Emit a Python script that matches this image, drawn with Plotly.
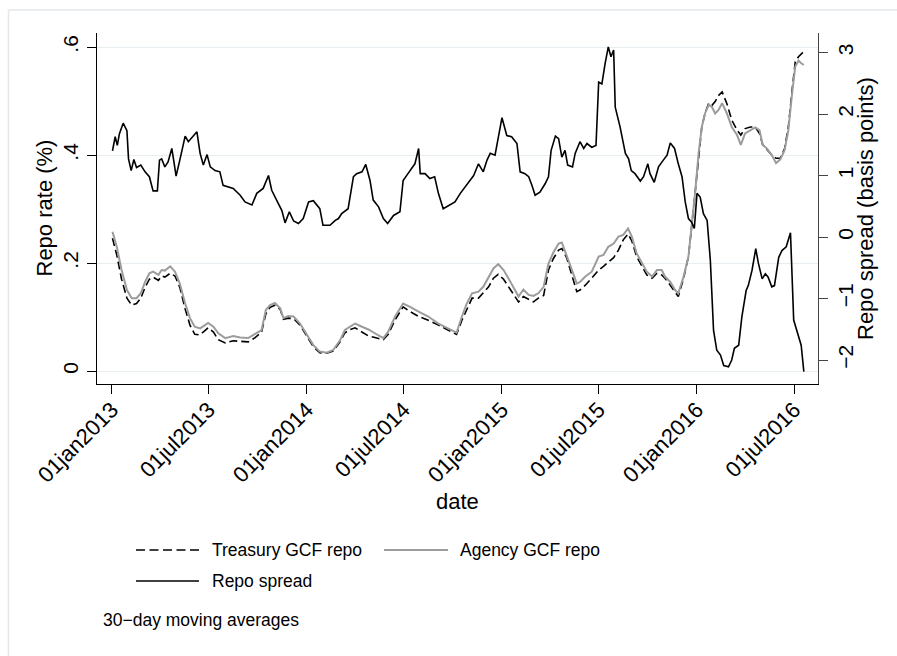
import plotly.graph_objects as go

# ---------------- data (30-day moving averages) ----------------
spread_dates = [
    "2013-01-02", "2013-01-07", "2013-01-11", "2013-01-15", "2013-01-22", "2013-01-29", "2013-02-01", "2013-02-06",
    "2013-02-11", "2013-02-16", "2013-02-24", "2013-03-04", "2013-03-12", "2013-03-19", "2013-03-27", "2013-03-31",
    "2013-04-04", "2013-04-10", "2013-04-16", "2013-04-23", "2013-04-27", "2013-05-01", "2013-05-08", "2013-05-18",
    "2013-05-24", "2013-06-02", "2013-06-09", "2013-06-15", "2013-06-21", "2013-06-28", "2013-07-04", "2013-07-13",
    "2013-07-22", "2013-07-28", "2013-08-07", "2013-08-16", "2013-08-29", "2013-09-07", "2013-09-20", "2013-09-29",
    "2013-10-11", "2013-10-21", "2013-10-27", "2013-11-05", "2013-11-15", "2013-11-21", "2013-11-29", "2013-12-07",
    "2013-12-16", "2013-12-25", "2014-01-04", "2014-01-13", "2014-01-25", "2014-01-31", "2014-02-13", "2014-02-23",
    "2014-03-01", "2014-03-07", "2014-03-19", "2014-03-29", "2014-04-04", "2014-04-14", "2014-04-21", "2014-04-29",
    "2014-05-05", "2014-05-15", "2014-05-24", "2014-06-01", "2014-06-12", "2014-06-24", "2014-06-30", "2014-07-09",
    "2014-07-17", "2014-07-22", "2014-07-29", "2014-08-01", "2014-08-10", "2014-08-19", "2014-08-28", "2014-09-04",
    "2014-09-13", "2014-09-26", "2014-10-05", "2014-10-15", "2014-10-27", "2014-11-09", "2014-11-18", "2014-11-27",
    "2014-12-04", "2014-12-10", "2014-12-19", "2014-12-25", "2015-01-01", "2015-01-10", "2015-01-19", "2015-01-29",
    "2015-02-04", "2015-02-13", "2015-02-20", "2015-02-26", "2015-03-04", "2015-03-13", "2015-03-23", "2015-03-29",
    "2015-04-03", "2015-04-11", "2015-04-17", "2015-04-23", "2015-04-29", "2015-05-04", "2015-05-13", "2015-05-18",
    "2015-05-27", "2015-06-03", "2015-06-09", "2015-06-18", "2015-06-26", "2015-07-01", "2015-07-07", "2015-07-13",
    "2015-07-19", "2015-07-24", "2015-07-29", "2015-08-01", "2015-08-10", "2015-08-20", "2015-08-26", "2015-08-31",
    "2015-09-07", "2015-09-17", "2015-09-23", "2015-10-01", "2015-10-05", "2015-10-13", "2015-10-21", "2015-10-30",
    "2015-11-06", "2015-11-12", "2015-11-20", "2015-11-27", "2015-12-04", "2015-12-10", "2015-12-16", "2015-12-22",
    "2015-12-27", "2016-01-01", "2016-01-07", "2016-01-13", "2016-01-20", "2016-01-26", "2016-02-01", "2016-02-07",
    "2016-02-14", "2016-02-20", "2016-02-29", "2016-03-06", "2016-03-11", "2016-03-19", "2016-03-25", "2016-04-02",
    "2016-04-06", "2016-04-13", "2016-04-20", "2016-04-25", "2016-05-02", "2016-05-08", "2016-05-13", "2016-05-20",
    "2016-05-25", "2016-06-02", "2016-06-08", "2016-06-16", "2016-06-24", "2016-06-30", "2016-07-08", "2016-07-14",
    "2016-07-19",
]
spread_bp = [
    1.40, 1.63, 1.49, 1.68, 1.85, 1.73, 1.27, 1.08,
    1.26, 1.13, 1.17, 1.06, 0.98, 0.75, 0.75, 1.25,
    1.27, 1.14, 1.22, 1.44, 1.22, 0.99, 1.25, 1.64,
    1.55, 1.64, 1.71, 1.36, 1.17, 1.34, 1.14, 1.08,
    1.06, 0.84, 0.81, 0.79, 0.68, 0.57, 0.52, 0.71,
    0.79, 1.00, 0.76, 0.60, 0.43, 0.23, 0.41, 0.26,
    0.22, 0.30, 0.57, 0.59, 0.46, 0.19, 0.19, 0.27,
    0.30, 0.38, 0.46, 0.98, 1.03, 1.06, 1.18, 0.92,
    0.60, 0.49, 0.30, 0.22, 0.35, 0.41, 0.92, 1.03,
    1.14, 1.19, 1.44, 1.03, 1.03, 0.95, 0.98, 0.71,
    0.46, 0.52, 0.57, 0.71, 0.84, 1.00, 1.19, 1.06,
    1.25, 1.36, 1.33, 1.63, 1.94, 1.65, 1.63, 1.52,
    1.06, 1.03, 0.98, 0.84, 0.68, 0.73, 0.87, 0.98,
    1.41, 1.64, 1.60, 1.30, 1.41, 1.17, 1.14, 1.36,
    1.55, 1.44, 1.52, 1.46, 1.49, 2.52, 2.49, 2.82,
    3.09, 2.93, 3.04, 2.11, 1.79, 1.36, 1.27, 1.08,
    1.03, 0.91, 0.98, 1.19, 1.03, 0.89, 1.14, 1.25,
    1.33, 1.53, 1.44, 1.19, 0.98, 0.57, 0.30, 0.24,
    0.14, 0.71, 0.65, 0.38, 0.27, -0.38, -1.52, -1.84,
    -1.92, -2.09, -2.11, -2.00, -1.81, -1.76, -1.30, -0.87,
    -0.79, -0.54, -0.19, -0.43, -0.68, -0.60, -0.65, -0.81,
    -0.79, -0.33, -0.22, -0.16, 0.07, -1.35, -1.57, -1.76,
    -2.19,
]

rate_dates = [
    "2013-01-02", "2013-01-10", "2013-01-19", "2013-01-29", "2013-02-07", "2013-02-16", "2013-02-24", "2013-03-04",
    "2013-03-12", "2013-03-19", "2013-03-29", "2013-04-04", "2013-04-10", "2013-04-20", "2013-04-29", "2013-05-08",
    "2013-05-18", "2013-05-27", "2013-06-05", "2013-06-15", "2013-06-24", "2013-06-30", "2013-07-10", "2013-07-19",
    "2013-08-01", "2013-08-16", "2013-08-29", "2013-09-13", "2013-09-26", "2013-10-08", "2013-10-16", "2013-10-24",
    "2013-11-02", "2013-11-12", "2013-11-18", "2013-11-27", "2013-12-07", "2013-12-19", "2014-01-01", "2014-01-13",
    "2014-01-25", "2014-02-07", "2014-02-19", "2014-03-04", "2014-03-13", "2014-03-23", "2014-04-01", "2014-04-14",
    "2014-04-26", "2014-05-08", "2014-05-24", "2014-06-02", "2014-06-15", "2014-06-30", "2014-07-13", "2014-07-29",
    "2014-08-16", "2014-09-04", "2014-09-23", "2014-10-08", "2014-10-18", "2014-10-27", "2014-11-06", "2014-11-18",
    "2014-11-27", "2014-12-07", "2014-12-16", "2014-12-25", "2015-01-04", "2015-01-13", "2015-01-22", "2015-02-01",
    "2015-02-10", "2015-02-20", "2015-03-01", "2015-03-10", "2015-03-20", "2015-03-29", "2015-04-07", "2015-04-17",
    "2015-04-23", "2015-05-02", "2015-05-12", "2015-05-21", "2015-05-27", "2015-06-06", "2015-06-18", "2015-07-01",
    "2015-07-10", "2015-07-19", "2015-07-29", "2015-08-07", "2015-08-16", "2015-08-25", "2015-09-01", "2015-09-10",
    "2015-09-20", "2015-09-29", "2015-10-09", "2015-10-18", "2015-10-27", "2015-11-02", "2015-11-12", "2015-11-21",
    "2015-11-27", "2015-12-07", "2015-12-16", "2015-12-22", "2015-12-29", "2016-01-04", "2016-01-10", "2016-01-16",
    "2016-01-23", "2016-01-29", "2016-02-04", "2016-02-10", "2016-02-17", "2016-02-26", "2016-03-06", "2016-03-16",
    "2016-03-23", "2016-03-31", "2016-04-10", "2016-04-19", "2016-04-27", "2016-05-03", "2016-05-11", "2016-05-20",
    "2016-05-28", "2016-06-05", "2016-06-13", "2016-06-20", "2016-06-27", "2016-07-03", "2016-07-09", "2016-07-14",
    "2016-07-19",
]
agency_gcf = [
    0.258, 0.230, 0.187, 0.150, 0.135, 0.135, 0.144, 0.165,
    0.181, 0.184, 0.178, 0.187, 0.186, 0.194, 0.184, 0.162,
    0.125, 0.098, 0.082, 0.079, 0.085, 0.089, 0.082, 0.070,
    0.061, 0.065, 0.062, 0.061, 0.069, 0.076, 0.113, 0.122,
    0.126, 0.116, 0.098, 0.102, 0.101, 0.088, 0.067, 0.048,
    0.036, 0.034, 0.039, 0.057, 0.076, 0.082, 0.088, 0.082,
    0.077, 0.070, 0.061, 0.073, 0.101, 0.125, 0.119, 0.110,
    0.101, 0.088, 0.079, 0.071, 0.101, 0.125, 0.144, 0.147,
    0.156, 0.175, 0.190, 0.198, 0.187, 0.172, 0.156, 0.138,
    0.151, 0.141, 0.139, 0.144, 0.156, 0.199, 0.219, 0.236,
    0.238, 0.215, 0.187, 0.162, 0.165, 0.175, 0.184, 0.212,
    0.215, 0.230, 0.236, 0.249, 0.252, 0.264, 0.249, 0.218,
    0.199, 0.184, 0.175, 0.187, 0.187, 0.175, 0.165, 0.150,
    0.144, 0.175, 0.212, 0.267, 0.335, 0.403, 0.452, 0.477,
    0.493, 0.489, 0.477, 0.483, 0.496, 0.477, 0.452, 0.437,
    0.419, 0.440, 0.446, 0.451, 0.446, 0.419, 0.412, 0.400,
    0.385, 0.392, 0.409, 0.446, 0.514, 0.564, 0.575, 0.570,
    0.567,
]
treasury_gcf = [
    0.246, 0.215, 0.170, 0.135, 0.122, 0.125, 0.135, 0.155,
    0.170, 0.174, 0.168, 0.176, 0.174, 0.181, 0.176, 0.155,
    0.115, 0.085, 0.068, 0.067, 0.075, 0.080, 0.072, 0.058,
    0.052, 0.056, 0.055, 0.054, 0.062, 0.072, 0.106, 0.118,
    0.122, 0.114, 0.096, 0.098, 0.097, 0.085, 0.064, 0.045,
    0.034, 0.033, 0.037, 0.054, 0.071, 0.077, 0.080, 0.072,
    0.065, 0.062, 0.058, 0.068, 0.095, 0.119, 0.110, 0.101,
    0.094, 0.085, 0.076, 0.068, 0.094, 0.113, 0.135, 0.135,
    0.145, 0.156, 0.172, 0.179, 0.170, 0.156, 0.142, 0.128,
    0.138, 0.132, 0.128, 0.135, 0.140, 0.187, 0.208, 0.224,
    0.227, 0.210, 0.175, 0.147, 0.150, 0.159, 0.172, 0.187,
    0.194, 0.201, 0.210, 0.224, 0.243, 0.254, 0.241, 0.212,
    0.193, 0.178, 0.172, 0.181, 0.178, 0.172, 0.159, 0.147,
    0.138, 0.172, 0.212, 0.267, 0.335, 0.403, 0.452, 0.477,
    0.496, 0.492, 0.499, 0.510, 0.517, 0.495, 0.465, 0.446,
    0.437, 0.449, 0.452, 0.452, 0.440, 0.419, 0.410, 0.400,
    0.394, 0.394, 0.412, 0.452, 0.520, 0.573, 0.582, 0.588,
    0.592,
]

x_tick_dates = ["2013-01-01", "2013-07-01", "2014-01-01", "2014-07-01",
                "2015-01-01", "2015-07-01", "2016-01-01", "2016-07-01"]
x_tick_text = ["01jan2013", "01jul2013", "01jan2014", "01jul2014",
               "01jan2015", "01jul2015", "01jan2016", "01jul2016"]
rate_ticks = [0, 0.2, 0.4, 0.6]
rate_tick_text = ["0", ".2", ".4", ".6"]
spread_ticks = [-2, -1, 0, 1, 2, 3]
spread_tick_text = ["\u22122", "\u22121", "0", "1", "2", "3"]

# ---------------- layout helpers (pixel -> paper) ----------------
W, H = 897, 656
L, R, T, B = 97, 818, 33, 384


def px(x):
    return (x - L) / (R - L)


def py(y):
    return (B - y) / (B - T)


FONT = "Liberation Sans, Arial, Helvetica, sans-serif"
GRAY = "#9c9c9c"

fig = go.Figure()
fig.add_trace(go.Scatter(x=rate_dates, y=treasury_gcf, mode="lines", name="Treasury GCF repo",
                         line=dict(color="black", width=1.6, dash="8px,4px"), showlegend=False))
fig.add_trace(go.Scatter(x=rate_dates, y=agency_gcf, mode="lines", name="Agency GCF repo",
                         line=dict(color=GRAY, width=2), showlegend=False))
fig.add_trace(go.Scatter(x=spread_dates, y=spread_bp, mode="lines", name="Repo spread", yaxis="y2",
                         line=dict(color="black", width=1.6), showlegend=False))

fig.update_layout(
    width=W, height=H,
    margin=dict(l=L, r=W - R, t=T, b=H - B, pad=0),
    paper_bgcolor="white", plot_bgcolor="white",
    font=dict(family=FONT, color="black"),
    xaxis=dict(type="date", range=["2012-12-04", "2016-08-14T12:00"],
               tickvals=x_tick_dates, ticktext=x_tick_text, tickangle=-45,
               tickfont=dict(size=22), ticklabelstandoff=-6,
               ticks="outside", ticklen=9, tickwidth=1.3, tickcolor="black",
               showline=True, linecolor="black", linewidth=1.3, showgrid=False, zeroline=False),
    yaxis=dict(range=[-0.024, 0.626], tickvals=rate_ticks, ticktext=rate_tick_text, tickangle=-90,
               tickfont=dict(size=21), ticks="outside", ticklen=9, tickwidth=1.3, tickcolor="black",
               showline=True, linecolor="black", linewidth=1.3,
               showgrid=True, gridcolor="#e6eef1", gridwidth=1.3, zeroline=False),
    yaxis2=dict(overlaying="y", side="right", range=[-2.39, 3.317], tickvals=spread_ticks,
                ticktext=spread_tick_text, tickangle=-90, tickfont=dict(size=21),
                ticks="outside", ticklen=9, tickwidth=1.3, tickcolor="#444",
                showline=True, linecolor="#444", linewidth=1.3, showgrid=False, zeroline=False),
)

shapes = [
    # outer graph-region border
    dict(type="line", xref="paper", yref="paper", x0=px(8.5), x1=px(897), y0=py(10), y1=py(10),
         line=dict(color="#e3e9ec", width=1.5)),
    dict(type="line", xref="paper", yref="paper", x0=px(8.5), x1=px(8.5), y0=py(10), y1=py(656),
         line=dict(color="#e3e9ec", width=1.5)),
    # legend keys
    dict(type="line", xref="paper", yref="paper", x0=px(136), x1=px(199), y0=py(550), y1=py(550),
         line=dict(color="black", width=1.6, dash="9px,4.5px")),
    dict(type="line", xref="paper", yref="paper", x0=px(384), x1=px(448), y0=py(550), y1=py(550),
         line=dict(color=GRAY, width=2)),
    dict(type="line", xref="paper", yref="paper", x0=px(136), x1=px(199), y0=py(581), y1=py(581),
         line=dict(color="black", width=1.6)),
]

annotations = [
    dict(text="Repo rate (%)", x=px(44), y=py(208.5), textangle=-90, font=dict(size=22)),
    dict(text="Repo spread (basis points)", x=px(866), y=py(209), textangle=-90, font=dict(size=22)),
    dict(text="date", x=px(457), y=py(501), font=dict(size=22)),
    dict(text="Treasury GCF repo", x=px(210), y=py(550), xanchor="left", font=dict(size=17.5)),
    dict(text="Agency GCF repo", x=px(458), y=py(550), xanchor="left", font=dict(size=17.5)),
    dict(text="Repo spread", x=px(210), y=py(581), xanchor="left", font=dict(size=17.5)),
    dict(text="30\u2212day moving averages", x=px(101), y=py(620), xanchor="left", font=dict(size=17.5)),
]
for a in annotations:
    a.update(xref="paper", yref="paper", showarrow=False, yanchor="middle",
             xanchor=a.get("xanchor", "center"))

fig.update_layout(shapes=shapes, annotations=annotations)

fig.write_html("out.html")
